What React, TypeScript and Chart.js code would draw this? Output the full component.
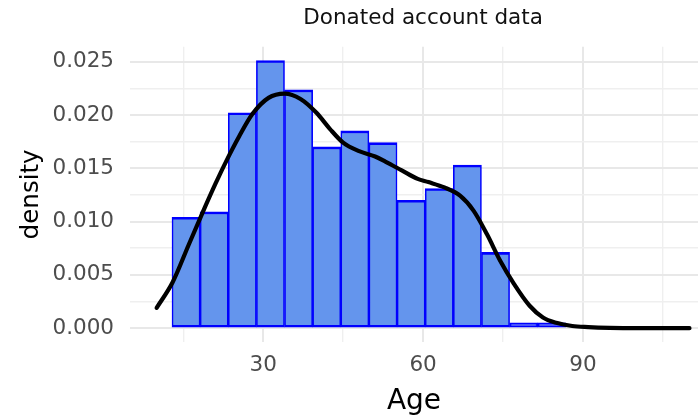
import React, { useEffect, useRef } from 'react';
import { Chart, registerables } from 'chart.js';

Chart.register(...registerables);

// ---- data ----
const titleText = 'Donated account data';
const xTitle = 'Age';
const yTitle = 'density';

// histogram bins (centres in years) and densities
const binCenters = [15.52, 20.8, 26.08, 31.36, 36.64, 41.92, 47.2, 52.48, 57.76, 63.04, 68.32, 73.6, 78.88, 84.16];
const binDensities = [0.0104, 0.0109, 0.0202, 0.0251, 0.02235, 0.017, 0.0185, 0.0174, 0.012, 0.0131, 0.0153, 0.0071, 0.0005, 0.0005];

// kernel density curve, read point by point
const curveAges = [10, 13, 16, 18.5, 21, 23, 25.5, 28, 31, 34, 37, 40, 42.5, 45, 48, 51, 53, 56, 59, 61, 64, 67, 69.5, 72, 74.5, 77, 80, 82.5, 85, 88, 91, 95, 100, 105, 110];
const curveDensities = [0.0019, 0.0043, 0.0078, 0.0107, 0.0135, 0.0156, 0.018, 0.0201, 0.0216, 0.022, 0.0215, 0.0202, 0.0187, 0.0174, 0.0166, 0.0161, 0.0156, 0.0148, 0.014, 0.0137, 0.0132, 0.0124, 0.011, 0.0088, 0.0063, 0.0042, 0.0021, 0.001, 0.0005, 0.0002, 0.0001, 0.00003, 0, 0, 0];

// axes
const xMin = 5;
const xMax = 111.6;
const xPanelCenter = 60;
const xTickValues = [15, 30, 45, 60, 75, 90, 105];
const xLabelValues = [30, 60, 90];
const yMin = -0.0013;
const yMax = 0.0264;
const yTickValues = [0, 0.0025, 0.005, 0.0075, 0.01, 0.0125, 0.015, 0.0175, 0.02, 0.0225, 0.025];
const yLabelValues = [0, 0.005, 0.01, 0.015, 0.02, 0.025];

const FONT = '"DejaVu Sans", "Liberation Sans", Arial, sans-serif';

const isIn = (list: number[], v: number) => list.some((l) => Math.abs(l - v) < 1e-9);

const panelTitlePlugin = {
  id: 'panelTitle',
  afterDraw(chart: any) {
    const ctx = chart.ctx;
    const x = chart.scales.x.getPixelForValue(xPanelCenter);
    ctx.save();
    ctx.font = `21.5px ${FONT}`;
    ctx.fillStyle = '#111111';
    ctx.textAlign = 'center';
    ctx.textBaseline = 'middle';
    ctx.fillText(titleText, x, 18.5);
    ctx.restore();
  },
};

export default function App() {
  const canvasRef = useRef<HTMLCanvasElement | null>(null);

  useEffect(() => {
    if (!canvasRef.current) return;
    const chart = new Chart(canvasRef.current, {
      type: 'bar',
      data: {
        datasets: [
          {
            type: 'line',
            label: 'density curve',
            data: curveAges.map((a, i) => ({ x: a, y: curveDensities[i] })),
            borderColor: '#000000',
            borderWidth: 4.2,
            pointRadius: 0,
            cubicInterpolationMode: 'monotone',
            borderCapStyle: 'round',
            fill: false,
            order: 0,
          } as any,
          {
            type: 'bar',
            label: 'histogram',
            data: binCenters.map((c, i) => ({ x: c, y: binDensities[i] })),
            backgroundColor: '#6495ED',
            borderColor: '#0000FF',
            borderWidth: { left: 1.6, right: 1.6, top: 2.6, bottom: 2.4 },
            borderSkipped: false,
            barPercentage: 1,
            categoryPercentage: 1,
            order: 1,
          } as any,
        ],
      },
      options: {
        animation: false,
        responsive: false,
        layout: { padding: { top: 46.7, left: 0, right: 0, bottom: 0 } },
        plugins: {
          legend: { display: false },
          title: { display: false },
          tooltip: { enabled: false },
        },
        scales: {
          x: {
            type: 'linear',
            min: xMin,
            max: xMax,
            offset: false,
            afterBuildTicks: (scale: any) => {
              scale.ticks = xTickValues.map((v) => ({ value: v }));
            },
            afterFit: (scale: any) => {
              scale.height = 77;
            },
            grid: {
              offset: false,
              drawTicks: false,
              color: (ctx: any) => (isIn(xLabelValues, ctx.tick?.value) ? '#E8E8E8' : '#EFEFEF'),
              lineWidth: (ctx: any) => (isIn(xLabelValues, ctx.tick?.value) ? 2 : 1.4),
            },
            border: { display: false },
            ticks: {
              autoSkip: false,
              maxRotation: 0,
              padding: 11,
              color: '#4D4D4D',
              font: { family: FONT, size: 21.5 },
              callback: (v: any) => (isIn(xLabelValues, Number(v)) ? String(v) : ''),
            },
            title: {
              display: true,
              text: xTitle,
              color: '#000000',
              font: { family: FONT, size: 28 },
              padding: { top: 0, bottom: 0 },
            },
          },
          y: {
            type: 'linear',
            min: yMin,
            max: yMax,
            afterBuildTicks: (scale: any) => {
              scale.ticks = yTickValues.map((v) => ({ value: v }));
            },
            afterFit: (scale: any) => {
              scale.width = 130;
            },
            grid: {
              drawTicks: false,
              color: (ctx: any) => (isIn(yLabelValues, ctx.tick?.value) ? '#E8E8E8' : '#EFEFEF'),
              lineWidth: (ctx: any) => (isIn(yLabelValues, ctx.tick?.value) ? 2 : 1.4),
            },
            border: { display: false },
            ticks: {
              autoSkip: false,
              padding: 16,
              color: '#4D4D4D',
              font: { family: FONT, size: 21.5 },
              callback: (v: any) => (isIn(yLabelValues, Number(v)) ? Number(v).toFixed(3) : ''),
            },
            title: {
              display: true,
              text: yTitle,
              color: '#000000',
              font: { family: FONT, size: 24.5 },
              padding: { top: 17, bottom: 0 },
            },
          },
        },
      } as any,
      plugins: [panelTitlePlugin],
    });
    return () => chart.destroy();
  }, []);

  return (
    <div style={{ position: 'fixed', left: 0, top: 0, width: 698, height: 419, background: '#ffffff' }}>
      <canvas ref={canvasRef} width={698} height={419} />
    </div>
  );
}
